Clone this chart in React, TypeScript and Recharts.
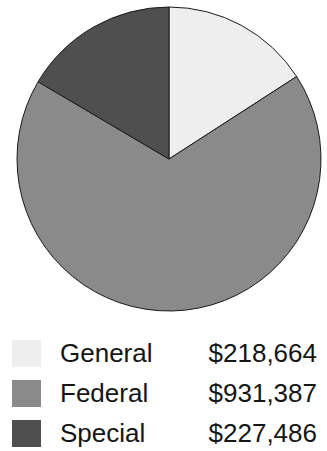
import React from 'react';
import { PieChart, Pie, Cell, Legend } from 'recharts';

const categories = ['General', 'Federal', 'Special'];
const amounts = [218664, 931387, 227486];
const colors = ['#eeeeee', '#8a8a8a', '#4f4f4f'];

const data = categories.map((name, i) => ({ name, value: amounts[i] }));

const fmt = (v: number) => '$' + v.toLocaleString('en-US');

const LegendRows: React.FC = () => (
  <div style={{ fontFamily: '"Liberation Sans", Arial, sans-serif', fontSize: 26, color: '#151515' }}>
    {data.map((d, i) => (
      <div key={d.name} style={{ position: 'relative', height: 40 }}>
        <div
          style={{
            position: 'absolute',
            left: 12,
            top: 0,
            width: 29,
            height: 27,
            background: colors[i],
          }}
        />
        <span style={{ position: 'absolute', left: 60, top: -5, lineHeight: '36px' }}>{d.name}</span>
        <span style={{ position: 'absolute', right: 10, top: -5, lineHeight: '36px' }}>{fmt(d.value)}</span>
      </div>
    ))}
  </div>
);

export default function App() {
  return (
    <div style={{ position: 'absolute', left: 0, top: 0, width: 327, height: 451, background: '#fff' }}>
      <PieChart width={327} height={451} margin={{ top: 0, right: 0, bottom: 0, left: 0 }}>
        <Pie
          data={data}
          dataKey="value"
          nameKey="name"
          cx={169}
          cy={159}
          outerRadius={152}
          startAngle={90}
          endAngle={-270}
          stroke="#1a1a1a"
          strokeWidth={1}
          isAnimationActive={false}
          legendType="square"
        >
          {data.map((d, i) => (
            <Cell key={d.name} fill={colors[i]} />
          ))}
        </Pie>
        <Legend
          content={<LegendRows />}
          wrapperStyle={{ position: 'absolute', left: 0, top: 340, width: 327, height: 120 }}
        />
      </PieChart>
    </div>
  );
}
